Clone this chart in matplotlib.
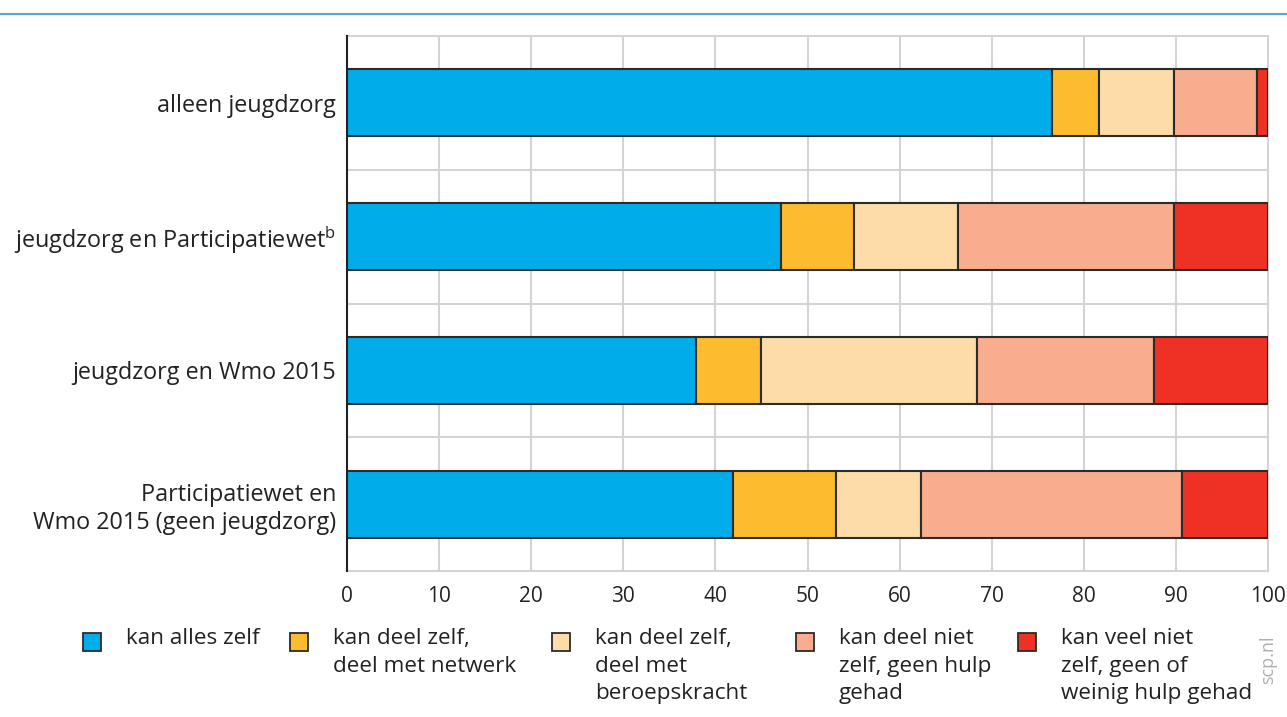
import numpy as np
import matplotlib.pyplot as plt
from matplotlib.patches import Rectangle
from matplotlib.lines import Line2D

plt.rcParams['font.family'] = ['Open Sans', 'DejaVu Sans']

categories = [
    'alleen jeugdzorg',
    'jeugdzorg en Participatiewet$^{\\mathregular{b}}$',
    'jeugdzorg en Wmo 2015',
    'Participatiewet en\nWmo 2015 (geen jeugdzorg)',
]
series_names = [
    'kan alles zelf',
    'kan deel zelf,\ndeel met netwerk',
    'kan deel zelf,\ndeel met\nberoepskracht',
    'kan deel niet\nzelf, geen hulp\ngehad',
    'kan veel niet\nzelf, geen of\nweinig hulp gehad',
]
alles_zelf = [76.5, 47.1, 37.9, 41.9]
deel_netwerk = [5.1, 8.0, 7.1, 11.2]
deel_beroeps = [8.2, 11.2, 23.4, 9.2]
deel_niet = [9.0, 23.5, 19.2, 28.4]
veel_niet = [1.2, 10.2, 12.4, 9.3]
colours = ['#00adea', '#fdbb30', '#fddcaa', '#f8ad8f', '#ee3124']
xticks = [0, 10, 20, 30, 40, 50, 60, 70, 80, 90, 100]

series = [alles_zelf, deel_netwerk, deel_beroeps, deel_niet, veel_niet]

fig = plt.figure(figsize=(12.87, 7.17), dpi=100)
ax = fig.add_axes([347/1287, 1-571/717, (1268-347)/1287, (571-36)/717])

y = np.arange(len(categories))
left = np.zeros(len(categories))
for vals, col, name in zip(series, colours, series_names):
    ax.barh(y, vals, left=left, height=0.5, color=col, edgecolor='#2b2b2b',
            linewidth=1.5, label=name, zorder=3)
    left += np.array(vals)

ax.set_xlim(0, 100)
ax.set_ylim(len(categories)-0.5, -0.5)
ax.set_xticks(xticks)
ax.set_xticklabels([str(t) for t in xticks], fontsize=15, color='#222222')
ax.set_yticks(y)
ax.set_yticklabels(categories, fontsize=16.8, color='#222222')
ax.tick_params(axis='x', length=0, pad=11)
ax.tick_params(axis='y', length=0, pad=8)

# grid: vertical at ticks, horizontal between categories
for t in xticks[1:-1]:
    ax.axvline(t, color='#d4d4d4', lw=1.5, zorder=1)
for b in np.arange(len(categories)-1) + 0.5:
    ax.axhline(b, color='#d4d4d4', lw=1.5, zorder=1)
for side in ['top', 'right', 'bottom']:
    ax.spines[side].set_color('#d4d4d4')
    ax.spines[side].set_linewidth(1.5)
ax.spines['left'].set_color('#222222')
ax.spines['left'].set_linewidth(1.5)
ax.spines['left'].set_zorder(5)

# blue rule at the top
fig.add_artist(Line2D([0, 1], [1-14/717, 1-14/717], color='#5aa6d6', lw=1.5,
                      transform=fig.transFigure))

# legend drawn by hand so that the box lines up with the first text line
leg_x = [83, 290, 552, 796, 1018]
for lx, col, name in zip(leg_x, colours, series_names):
    fig.add_artist(Rectangle((lx/1287, 1-651/717), 18/1287, 18/717,
                             facecolor=col, edgecolor='#2b2b2b', lw=1.3,
                             transform=fig.transFigure))
    fig.text((lx+43)/1287, 1-628/717, name, fontsize=16.2, color='#222222',
             va='top', ha='left', linespacing=1.42)

fig.text(1268/1287, 1-660/717, 'scp.nl', rotation=90, fontsize=13,
         color='#b0b0b0', ha='center', va='center')

fig.savefig('out.png', dpi=100)
plt.close(fig)
